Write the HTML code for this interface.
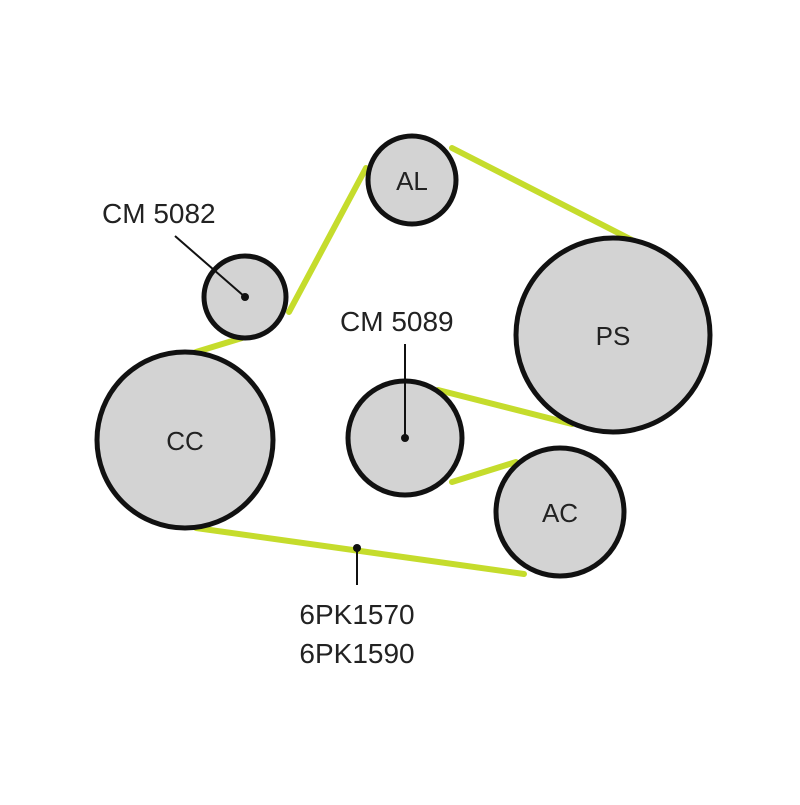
<!DOCTYPE html>
<html><head><meta charset="utf-8"><style>html,body{margin:0;padding:0;background:#fff}</style></head>
<body>
<svg width="800" height="800" viewBox="0 0 800 800" xmlns="http://www.w3.org/2000/svg">
<rect width="800" height="800" fill="#fff"/>
<g stroke="#c5dc2c" stroke-width="6" stroke-linecap="round" fill="none">
<line x1="366" y1="168" x2="289" y2="312"/>
<line x1="452" y1="148" x2="632" y2="240"/>
<line x1="438" y1="390" x2="572" y2="424"/>
<line x1="452" y1="482" x2="516" y2="462"/>
<line x1="524" y1="574" x2="196" y2="528"/>
<line x1="196" y1="352" x2="242" y2="338"/>
</g>
<g stroke="#111" stroke-width="5" fill="#d3d3d3">
<circle cx="412" cy="180" r="44"/>
<circle cx="245" cy="297" r="41"/>
<circle cx="613" cy="335" r="97"/>
<circle cx="185" cy="440" r="88"/>
<circle cx="405" cy="438" r="57"/>
<circle cx="560" cy="512" r="64"/>
</g>
<g stroke="#111" stroke-width="2">
<line x1="175" y1="236" x2="245" y2="297"/>
<line x1="405" y1="344" x2="405" y2="438"/>
<line x1="357" y1="548" x2="357" y2="585"/>
</g>
<g fill="#111"><circle cx="245" cy="297" r="4"/><circle cx="405" cy="438" r="4"/><circle cx="357" cy="548" r="4"/></g>
<g font-family="Liberation Sans, sans-serif" font-size="26" fill="#222">
<text x="412" y="190" text-anchor="middle">AL</text>
<text x="613" y="345" text-anchor="middle">PS</text>
<text x="185" y="450" text-anchor="middle">CC</text>
<text x="560" y="522" text-anchor="middle">AC</text>
</g>
<g font-family="Liberation Sans, sans-serif" font-size="28" fill="#222">
<text x="102" y="223">CM 5082</text>
<text x="340" y="331">CM 5089</text>
<text x="357" y="624" text-anchor="middle">6PK1570</text>
<text x="357" y="663" text-anchor="middle">6PK1590</text>
</g>
</svg>
</body></html>
